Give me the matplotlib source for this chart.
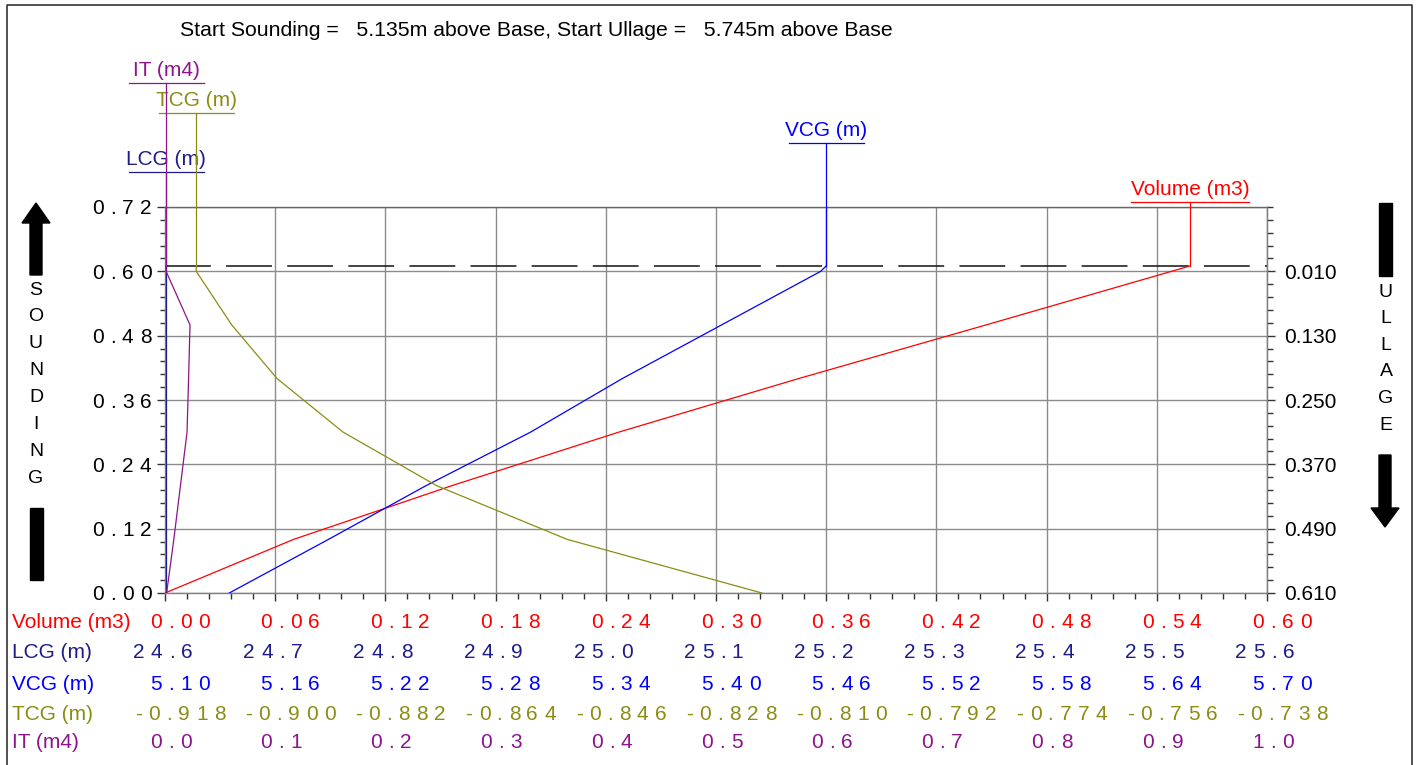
import matplotlib
matplotlib.use('Agg')
import matplotlib.pyplot as plt
import matplotlib.transforms as mtransforms
from matplotlib.patches import Polygon, Rectangle
from matplotlib.ticker import FixedLocator

plt.rcParams['font.family'] = ['Liberation Sans', 'DejaVu Sans']

# --- tank calibration data --- #
sounding = [0.0, 0.1, 0.2, 0.3, 0.4, 0.5, 0.6, 0.61]
volume = [0.0, 0.070, 0.156, 0.247, 0.345, 0.447, 0.548, 0.558]
lcg = [24.601, 24.601, 24.601, 24.601, 24.601, 24.601, 24.601, 24.601]
vcg = [5.135, 5.189, 5.242, 5.299, 5.349, 5.403, 5.457, 5.460]
tcg = [-0.8205, -0.8523, -0.8736, -0.8889, -0.8997, -0.9071, -0.9129, -0.9129]
it = [0.0015, 0.008, 0.014, 0.020, 0.0214, 0.0227, 0.001, 0.001]

start_sounding = 5.135
start_ullage = 5.745
top_sounding = 0.61

# axis tick labels
vol_labels = ['0.00', '0.06', '0.12', '0.18', '0.24', '0.30', '0.36', '0.42', '0.48', '0.54', '0.60']
lcg_labels = ['24.6', '24.7', '24.8', '24.9', '25.0', '25.1', '25.2', '25.3', '25.4', '25.5', '25.6']
vcg_labels = ['5.10', '5.16', '5.22', '5.28', '5.34', '5.40', '5.46', '5.52', '5.58', '5.64', '5.70']
tcg_labels = ['-0.918', '-0.900', '-0.882', '-0.864', '-0.846', '-0.828', '-0.810', '-0.792',
              '-0.774', '-0.756', '-0.738']
it_labels = ['0.0', '0.1', '0.2', '0.3', '0.4', '0.5', '0.6', '0.7', '0.8', '0.9', '1.0']
sounding_labels = ['0.00', '0.12', '0.24', '0.36', '0.48', '0.60', '0.72']
ullage_labels = ['0.010', '0.130', '0.250', '0.370', '0.490', '0.610']

# name, values, colour, tick labels, row y (px), label x shift (px), leader y (px), underline half width (px)
series = [
    ('Volume (m3)', volume, '#ff0000', vol_labels, 621, -15, 202, 59),
    ('LCG (m)', lcg, '#1c1c8c', lcg_labels, 651, -32, 172, 37.5),
    ('VCG (m)', vcg, '#0000ff', vcg_labels, 682, -15, 143, 37.5),
    ('TCG (m)', tcg, '#8c8c14', tcg_labels, 712, -30, 113, 37.5),
    ('IT (m4)', it, '#8c148c', it_labels, 740, -15, 83, 37.5),
]

W, H = 1420, 765
AX_L, AX_B, AX_W, AX_H = 165, 593, 1102, 386
FS = 15
CHAR_W = {'.': 0.278, '-': 0.333}
GAP = 4.5  # letter spacing, points


def spaced(a, x, y, s, color, dx, dy, trans):
    off = dx
    for ch in s:
        a.annotate(ch, xy=(x, y), xycoords=trans, xytext=(off, dy), textcoords='offset points',
                   ha='left', va='baseline', color=color, fontsize=FS, annotation_clip=False)
        off += CHAR_W.get(ch, 0.556) * FS + GAP


def px2pt(p):
    return p * 72 / 100


fig = plt.figure(figsize=(W / 100, H / 100), dpi=100)

# decoration layer in pixel coords
ov = fig.add_axes([0, 0, 1, 1])
ov.set_xlim(0, W)
ov.set_ylim(H, 0)
ov.axis('off')
ov.plot([7, 7, 1412, 1412], [H, 5, 5, H], color='#333333', lw=1.2)
ov.add_patch(Polygon([(36, 203), (50, 223), (42, 223), (42, 275), (30, 275), (30, 223), (22, 223)],
                     closed=True, color='black'))
ov.add_patch(Rectangle((30, 508), 13, 72, color='black'))
ov.add_patch(Rectangle((1379, 203), 13, 73, color='black'))
ov.add_patch(Polygon([(1385, 527), (1399, 508), (1391, 508), (1391, 455), (1379, 455), (1379, 508),
                      (1371, 508)], closed=True, color='black'))
for i, ch in enumerate('SOUNDING'):
    ov.text(36, 290 + 26.9 * i, ch, ha='center', va='center', fontsize=14, color='black')
for i, ch in enumerate('ULLAGE'):
    ov.text(1386, 292 + 26.6 * i, ch, ha='center', va='center', fontsize=14, color='black')
ov.text(180, 30, f'Start Sounding =   {start_sounding:.3f}m above Base, Start Ullage =   '
        f'{start_ullage:.3f}m above Base', ha='left', va='center', fontsize=15.3, color='black')

# main axes (volume / sounding)
ax = fig.add_axes([AX_L / W, (H - AX_B) / H, AX_W / W, AX_H / H])
ax.set_xlim(float(vol_labels[0]), float(vol_labels[-1]))
ax.set_ylim(float(sounding_labels[0]), float(sounding_labels[-1]))
ax.set_xticks([float(v) for v in vol_labels])
ax.set_yticks([float(v) for v in sounding_labels])
ax.xaxis.set_minor_locator(FixedLocator([i * 0.012 for i in range(51)]))
ax.yaxis.set_minor_locator(FixedLocator([i * 0.024 for i in range(31)]))
ax.set_xticklabels([])
ax.set_yticklabels([])
ax.tick_params(which='both', direction='out', color='#333333', width=1)
ax.tick_params(which='major', length=px2pt(8))
ax.tick_params(which='minor', length=px2pt(5.5))
ax.grid(True, which='major', color='#8c8c8c', lw=1.0)
ax.set_axisbelow(True)
for sp in ax.spines.values():
    sp.set_color('#808080')
    sp.set_linewidth(1.0)
ax.spines['top'].set_color('#666666')
ax.axhline(top_sounding, color='#111111', lw=1.1, dashes=(30, 10), zorder=2.5)

# left sounding labels (letter spaced)
ytr = mtransforms.blended_transform_factory(ax.transAxes, ax.transData)
for lab in sounding_labels:
    spaced(ax, 0, float(lab), lab, 'black', px2pt(-73), px2pt(-7.5), ytr)

# right ullage axis
axu = ax.twinx()
axu.set_ylim(top_sounding, top_sounding - float(sounding_labels[-1]))
axu.set_yticks([float(v) for v in ullage_labels])
axu.set_yticklabels(ullage_labels, fontsize=FS)
axu.yaxis.set_minor_locator(FixedLocator([0.010 + 0.024 * k for k in range(-5, 26)]))
axu.tick_params(which='both', direction='out', color='#333333', width=1, pad=px2pt(9))
axu.tick_params(which='major', length=px2pt(8))
axu.tick_params(which='minor', length=px2pt(6))
for name, sp in axu.spines.items():
    sp.set_visible(name == 'right')
axu.spines['right'].set_color('#808080')

# series, each on its own x scale
for name, vals, col, labels, row_y, dx, lead_y, hw in series:
    a = ax if name.startswith('Volume') else ax.twiny()
    x0, x1 = float(labels[0]), float(labels[-1])
    a.set_xlim(x0, x1)
    a.set_ylim(float(sounding_labels[0]), float(sounding_labels[-1]))
    if a is not ax:
        a.axis('off')
    a.plot(vals, sounding, color=col, lw=0.9, zorder=3)

    # leader and label above the plot
    yl = (AX_B - lead_y) / AX_H * float(sounding_labels[-1])
    hwd = hw * (x1 - x0) / AX_W
    xl = vals[-1]
    a.plot([xl, xl], [sounding[-1], yl], color=col, lw=0.9, clip_on=False, zorder=3)
    a.plot([xl - hwd, xl + hwd], [yl, yl], color=col, lw=0.9, clip_on=False, zorder=3)
    a.annotate(name, xy=(xl, yl), xytext=(0, 2), textcoords='offset points', ha='center',
               va='bottom', color=col, fontsize=FS, annotation_clip=False)

    # scale row under the plot
    rtr = mtransforms.blended_transform_factory(a.transData, fig.transFigure)
    yb = 1 - (row_y + 7.5) / H
    for lab in labels:
        spaced(a, float(lab), yb, lab, col, px2pt(dx), 0, rtr)
    fig.text(12 / W, yb, name, color=col, fontsize=FS, ha='left', va='baseline')

fig.savefig('out.png', dpi=100)
